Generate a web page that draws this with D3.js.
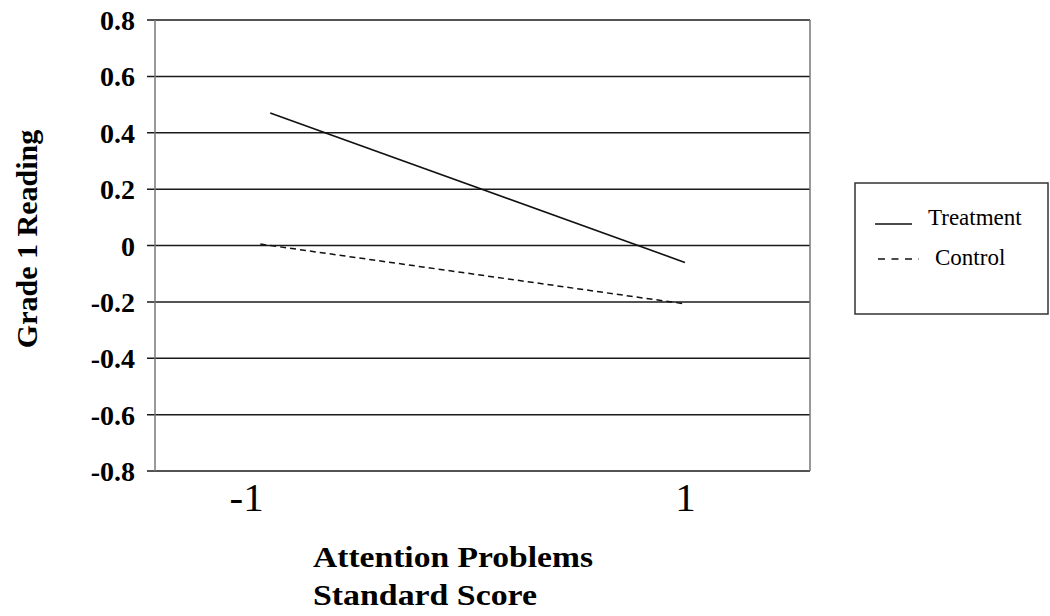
<!DOCTYPE html>
<html>
<head>
<meta charset="utf-8">
<script src="https://cdn.jsdelivr.net/npm/d3@7"></script>
<style>
  html, body { margin: 0; padding: 0; background: #fff; }
  svg { display: block; }
</style>
</head>
<body>
<svg id="chart" width="1050" height="616"></svg>
<script>
// ---- data ----
const yTicks = [-0.8, -0.6, -0.4, -0.2, 0, 0.2, 0.4, 0.6, 0.8];
const yTickLabels = ["-0.8", "-0.6", "-0.4", "-0.2", "0", "0.2", "0.4", "0.6", "0.8"];
const xTicks = [-1, 1];
const xTickLabels = ["-1", "1"];
const seriesNames = ["Treatment", "Control"];
const treatmentX = [-0.89, 1];
const treatmentY = [0.47, -0.06];
const controlX = [-0.935, 1];
const controlY = [0.005, -0.207];
const yTitle = "Grade 1 Reading";
const xTitleLines = ["Attention Problems", "Standard Score"];

// ---- layout ----
(function () {
const serif = "'Liberation Serif', 'Times New Roman', Times, serif";
const svg = d3.select("#chart");
const pl = 155, pr = 810, pt = 20, pb = 471;

const x = d3.scaleLinear().domain([-1.415, 1.57]).range([pl, pr]);
const y = d3.scaleLinear().domain([-0.8, 0.8]).range([pb, pt]);

// gridlines
svg.append("g").selectAll("line").data(yTicks).join("line")
  .attr("x1", pl - 8).attr("x2", pr)
  .attr("y1", d => y(d)).attr("y2", d => y(d))
  .attr("stroke", "#1a1a1a").attr("stroke-width", 1.5);

// left axis line and right border
svg.append("line").attr("x1", pl).attr("x2", pl).attr("y1", pt).attr("y2", pb)
  .attr("stroke", "#777").attr("stroke-width", 1.5);
svg.append("line").attr("x1", pr).attr("x2", pr).attr("y1", pt).attr("y2", pb)
  .attr("stroke", "#777").attr("stroke-width", 1.5);

// y axis labels
const yAxis = d3.axisLeft(y).tickValues(yTicks)
  .tickFormat((d, i) => yTickLabels[i]).tickSize(0).tickPadding(20);
const gy = svg.append("g").attr("transform", `translate(${pl},0)`).call(yAxis);
gy.select(".domain").remove();
gy.selectAll("text")
  .attr("font-family", serif).attr("font-weight", "bold").attr("font-size", 28)
  .attr("fill", "#000").attr("dy", "0.34em");

// x axis labels
const xAxis = d3.axisBottom(x).tickValues(xTicks)
  .tickFormat((d, i) => xTickLabels[i]).tickSize(0).tickPadding(0);
const gx = svg.append("g").attr("transform", `translate(0,${pb})`).call(xAxis);
gx.select(".domain").remove();
gx.selectAll("text")
  .attr("font-family", serif).attr("font-size", 41).attr("fill", "#000")
  .attr("dy", null).attr("y", 40);

// lines
const line = d3.line().x(d => x(d[0])).y(d => y(d[1]));
svg.append("path").datum(d3.zip(treatmentX, treatmentY))
  .attr("d", line).attr("fill", "none").attr("stroke", "#111").attr("stroke-width", 1.6);
svg.append("path").datum(d3.zip(controlX, controlY))
  .attr("d", line).attr("fill", "none").attr("stroke", "#111").attr("stroke-width", 1.5)
  .attr("stroke-dasharray", "6,4");

// y title
svg.append("text")
  .attr("transform", "translate(37,239) rotate(-90)")
  .attr("text-anchor", "middle")
  .attr("font-family", serif).attr("font-weight", "bold").attr("font-size", 30)
  .text(yTitle);

// x title
svg.append("g").selectAll("text").data(xTitleLines).join("text")
  .attr("x", 313).attr("y", (d, i) => 567 + i * 38)
  .attr("font-family", serif).attr("font-weight", "bold").attr("font-size", 29)
  .attr("textLength", (d, i) => i === 0 ? 280 : 224)
  .attr("lengthAdjust", "spacingAndGlyphs")
  .text(d => d);

// legend
const lg = svg.append("g");
lg.append("rect").attr("x", 855).attr("y", 183).attr("width", 193).attr("height", 131)
  .attr("fill", "#fff").attr("stroke", "#333").attr("stroke-width", 1.5);
lg.append("line").attr("x1", 875).attr("x2", 912).attr("y1", 224).attr("y2", 224)
  .attr("stroke", "#111").attr("stroke-width", 1.5);
lg.append("line").attr("x1", 878).attr("x2", 919).attr("y1", 259).attr("y2", 259)
  .attr("stroke", "#111").attr("stroke-width", 1.6).attr("stroke-dasharray", "7,6.5");
lg.append("text").attr("x", 928).attr("y", 225)
  .attr("font-family", serif).attr("font-size", 23).text(seriesNames[0]);
lg.append("text").attr("x", 935).attr("y", 265)
  .attr("font-family", serif).attr("font-size", 23).text(seriesNames[1]);
})();
</script>
</body>
</html>
